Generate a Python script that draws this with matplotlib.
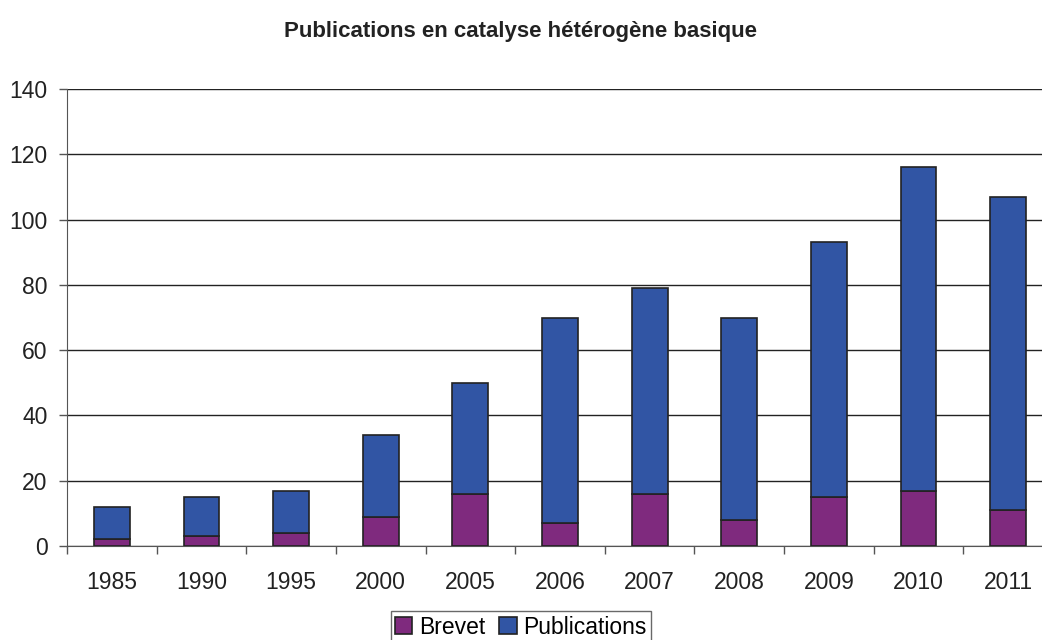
import matplotlib.pyplot as plt
import numpy as np

# data
years = ["1985", "1990", "1995", "2000", "2005", "2006", "2007", "2008", "2009", "2010", "2011"]
brevet = [2, 3, 4, 9, 16, 7, 16, 8, 15, 17, 11]
totals = [12, 15, 17, 34, 50, 70, 79, 70, 93, 116, 107]
publications = [t - b for t, b in zip(totals, brevet)]

plt.rcParams['font.family'] = ['Liberation Sans', 'DejaVu Sans']

fig = plt.figure(figsize=(10.42, 6.4), dpi=100)
ax = fig.add_axes([67 / 1042, 1 - 546 / 640, 986 / 1042, 457 / 640])

x = np.arange(len(years))
width = 0.4
ax.bar(x, brevet, width, color="#7F2A7E", edgecolor="#222222", linewidth=1.2,
       label="Brevet", zorder=3)
ax.bar(x, publications, width, bottom=brevet, color="#3155A4", edgecolor="#222222",
       linewidth=1.2, label="Publications", zorder=3)

ax.set_xlim(-0.5, len(years) - 0.5)
ax.set_ylim(0, 140)
ax.set_yticks(range(0, 141, 20))
ax.yaxis.grid(True, color="#222222", linewidth=1.0, zorder=0)

# category labels between boundary ticks
ax.set_xticks(x)
ax.set_xticklabels(years)
ax.set_xticks(np.arange(len(years)) - 0.5, minor=True)
ax.tick_params(axis="x", which="major", length=0, pad=18, labelsize=16.5, colors="#222222")
ax.tick_params(axis="x", which="minor", length=6, width=1, color="#555555")
ax.tick_params(axis="y", length=6, width=1, color="#555555", labelsize=16.5, pad=8,
               labelcolor="#222222")

for side in ["top", "right"]:
    ax.spines[side].set_visible(False)
ax.spines["left"].set_color("#555555")
ax.spines["bottom"].set_color("#555555")

fig.text(0.5, 1 - 31 / 640, "Publications en catalyse hétérogène basique",
         ha="center", va="center", fontsize=16, fontweight="bold", color="#222222")

leg = fig.legend(loc="upper center", bbox_to_anchor=(0.5, 1 - 611 / 640), ncol=2,
                 frameon=True, fancybox=False, fontsize=16.5, handlelength=0.75,
                 handleheight=0.75, handletextpad=0.3, columnspacing=0.6,
                 borderpad=0.2, borderaxespad=0)
leg.get_frame().set_edgecolor("#444444")
leg.get_frame().set_linewidth(1.0)

fig.savefig("out.png", dpi=100)
